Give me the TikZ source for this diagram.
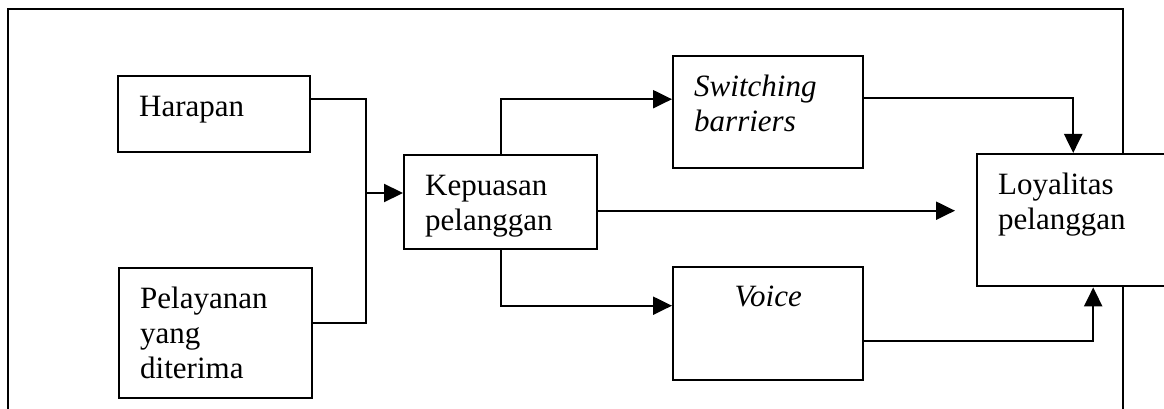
\documentclass[tikz,border=0pt]{standalone}
\usepackage{fontspec}
\setmainfont{Liberation Serif}
\usetikzlibrary{arrows.meta}
\begin{document}
\begin{tikzpicture}[x=1pt, y=-1pt,
        kotak/.style={draw, line width=2.4pt, anchor=north west, inner xsep=21pt, inner ysep=0pt,
            align=left, text height=40pt, font=\fontsize{31}{35}\selectfont},
        garis/.style={line width=2.2pt},
        panah/.style={garis, -{Triangle[length=19pt,width=18pt]}}]
    \useasboundingbox (0,0) rectangle (1164,409);
    \clip (0,0) rectangle (1164,409);
    % bingkai luar
    \draw[line width=1.5pt] (8,420) |- (1123,9) -- (1123,420);

    \node[kotak, text width=150pt, text depth=36pt] (hara) at (117,75) {Harapan};
    \node[kotak, text width=151pt, text depth=90pt] (pela) at (118,267) {Pelayanan\\yang\\diterima};
    \node[kotak, text width=151pt, text depth=54pt] (kepu) at (403,154) {Kepuasan\\pelanggan};
    \node[kotak, text width=148pt, text depth=72pt] (swit) at (672,55) {\textit{Switching}\\\textit{barriers}};
    \node[kotak, text width=148pt, text depth=74pt, text height=39pt, align=center] (voic) at (672,266) {\textit{Voice}};
    \node[kotak, text width=170pt, text depth=92pt, fill=white] (loya) at (976,153) {Loyalitas\\pelanggan};
    \coordinate (temu) at (366,193);

    \draw[garis] ([yshift=15pt]hara.east) -| (temu);
    \draw[garis] ([yshift=10pt]pela.east) -| (temu);
    \draw[panah] (temu) -- (temu -| kepu.west);
    \draw[panah] (kepu.north) |- ([yshift=13pt]swit.west);
    \draw[panah] (kepu.south) |- ([yshift=18pt]voic.west);
    \draw[panah, shorten >=21pt] ([yshift=-8.5pt]kepu.east) -- ([yshift=-8.5pt]kepu.east -| loya.west);
    \draw[panah] ([yshift=14pt]swit.east) -| ([xshift=-10pt]loya.north);
    \draw[panah] ([yshift=-17.5pt]voic.east) -| ([xshift=10pt]loya.south);
\end{tikzpicture}
\end{document}
